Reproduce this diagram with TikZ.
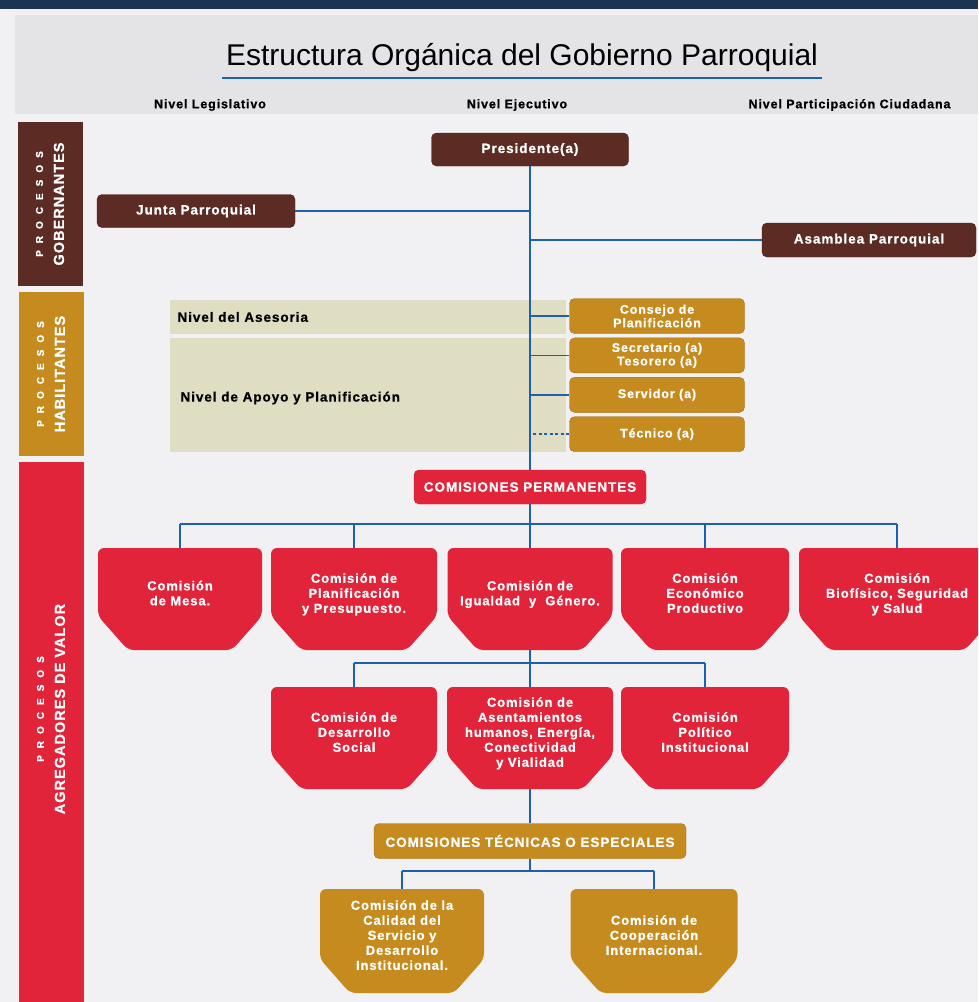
\documentclass[tikz,border=0pt]{standalone}
\usepackage{fontspec}
\setmainfont{Liberation Sans}
\newfontfamily\ancho{Liberation Sans}[LetterSpace=7,BoldFeatures={FakeBold=0.8}]
\usetikzlibrary{positioning,calc}
\definecolor{cafe}{RGB}{92,43,36}
\definecolor{rojo}{RGB}{226,36,58}
\definecolor{oro}{RGB}{197,139,30}
\definecolor{linea}{RGB}{30,96,176}
\definecolor{papel}{RGB}{241,240,242}
\definecolor{franja}{RGB}{228,227,230}
\definecolor{caqui}{RGB}{224,222,194}
\definecolor{marino}{RGB}{28,52,84}
\tikzset{
cargo/.style={draw=#1!80!black,fill=#1,rounded corners=5pt,text=white,align=center,inner sep=0pt,font=\ancho\bfseries\fontsize{13.5}{15}\selectfont},
apoyo/.style={cargo=oro,minimum width=175pt,minimum height=35pt,font=\ancho\bfseries\fontsize{12.5}{13.5}\selectfont},
comision/.style={fill=papel,inner sep=0pt,align=center,text=white,text depth=12pt,font=\ancho\bfseries\fontsize{13}{15}\selectfont,
 path picture={\fill[#1,rounded corners=6pt](path picture bounding box.north west)--(path picture bounding box.north east)--([yshift=34pt]path picture bounding box.south east)--([xshift=-30pt]path picture bounding box.south east)--([xshift=30pt]path picture bounding box.south west)--([yshift=34pt]path picture bounding box.south west)--cycle;}},
banda/.style={fill=#1,rotate=90,minimum height=65pt,inner sep=0pt},
bandatxt/.style={rotate=90,align=center,text=white,font=\ancho\bfseries\fontsize{14.5}{21}\selectfont},
nivel/.style={font=\ancho\bfseries\fontsize{12.5}{14}\selectfont},
enlace/.style={linea,line width=1.5pt}
}
\newcommand{\procesos}{{\fontsize{10}{12}\selectfont P\hspace{7pt}R\hspace{7pt}O\hspace{7pt}C\hspace{7pt}E\hspace{7pt}S\hspace{7pt}O\hspace{7pt}S}}
\begin{document}
\begin{tikzpicture}[x=1pt,y=-1pt]
\useasboundingbox (0,0) rectangle (978,1002);
\clip (0,0) rectangle (978,1002);
\fill[papel] (0,0) rectangle (978,1002);
\fill[marino] (0,0) rectangle (978,9);
\fill[franja] (15,15) rectangle (978,114);
\node[font=\fontsize{30}{32}\selectfont] (titulo) at (522,58) {Estructura Orgánica del Gobierno Parroquial};
\draw[linea,line width=1.8pt] ([yshift=-2pt]titulo.south west) -- ([yshift=-2pt]titulo.south east);
\node[nivel] (legis) at (210,105) {Nivel Legislativo};
\node[nivel] (ejec) at (517,105) {Nivel Ejecutivo};
\node[nivel,anchor=west] (partic) at (745,105) {Nivel Participación Ciudadana};

\node[banda=cafe,minimum width=164pt] (gob) at (50,204) {};
\node[bandatxt] at (gob) {\procesos\\GOBERNANTES};
\node[banda=oro,minimum width=164pt] (hab) at (51,374) {};
\node[bandatxt] at (hab) {\procesos\\HABILITANTES};
\node[banda=rojo,minimum width=548pt] (agr) at (51,736) {};
\node[bandatxt] at (51,709) {\procesos\\AGREGADORES DE VALOR};

\fill[caqui] (170,300) rectangle (566,334);
\fill[caqui] (170,338) rectangle (566,452);
\node[nivel,anchor=west,font=\ancho\bfseries\fontsize{13.5}{15}\selectfont] (asesoria) at (174,317) {Nivel del Asesoria};
\node[nivel,anchor=west,font=\ancho\bfseries\fontsize{13.5}{15}\selectfont] (planif) at (177,398) {Nivel de Apoyo y Planificación};

\node[cargo=cafe,minimum width=197pt,minimum height=33pt] (pres) at (530,149.5) {Presidente(a)};
\node[cargo=cafe,minimum width=198pt,minimum height=33pt] (junta) at (196,211) {Junta Parroquial};
\node[cargo=cafe,minimum width=214pt,minimum height=34pt] (asam) at (869,240) {Asamblea Parroquial};

\node[apoyo] (consejo) at (657,316) {Consejo de\\Planificación};
\node[apoyo,below=4pt of consejo] (secre) {Secretario (a)\\Tesorero (a)};
\node[apoyo,below=4pt of secre] (serv) {Servidor (a)};
\node[apoyo,below=4pt of serv] (tecn) {Técnico (a)};

\node[cargo=rojo,minimum width=232pt,minimum height=34pt] (perm) at (530,487) {COMISIONES PERMANENTES};

\node[comision=rojo,minimum width=164pt,minimum height=102pt] (mesa) at (180,599) {Comisión\\de Mesa.};
\node[comision=rojo,minimum width=166pt,minimum height=102pt] (plan) at (354,599) {Comisión de\\Planificación\\y Presupuesto.};
\node[comision=rojo,minimum width=165pt,minimum height=102pt] (igual) at (530,599) {Comisión de\\Igualdad~~y~~Género.};
\node[comision=rojo,minimum width=168pt,minimum height=102pt] (econ) at (705,599) {Comisión\\Económico\\Productivo};
\node[comision=rojo,minimum width=196pt,minimum height=102pt] (bio) at (897,599) {Comisión\\Biofísico, Seguridad\\y Salud};

\node[comision=rojo,minimum width=166pt,minimum height=102pt] (social) at (354,738) {Comisión de\\Desarrollo\\Social};
\node[comision=rojo,minimum width=166pt,minimum height=102pt] (asent) at (530,738) {Comisión de\\Asentamientos\\humanos, Energía,\\Conectividad\\y Vialidad};
\node[comision=rojo,minimum width=168pt,minimum height=102pt] (polit) at (705,738) {Comisión\\Político\\Institucional};

\node[cargo=oro,minimum width=312pt,minimum height=35pt] (tecesp) at (530,841) {COMISIONES TÉCNICAS O ESPECIALES};
\node[comision=oro,minimum width=164pt,minimum height=104pt] (calidad) at (402,941) {Comisión de la\\Calidad del\\Servicio y\\Desarrollo\\Institucional.};
\node[comision=oro,minimum width=167pt,minimum height=104pt] (coop) at (654,941) {Comisión de\\Cooperación\\Internacional.};

\coordinate (bus1) at (530,524);
\coordinate (bus2) at (530,663);
\coordinate (bus3) at (530,871);

\draw[enlace](pres)--(perm);
\draw[enlace](junta.east)--(junta.east-|pres.south);
\draw[enlace](asam.west)--(asam.west-|pres.south);
\foreach \n in {consejo,secre,serv} \draw[enlace](\n.west)--(\n.west-|pres.south);
\draw[enlace,dash pattern=on 3pt off 2.5pt](tecn.west)--(tecn.west-|pres.south);
\draw[enlace](perm)--(bus1);
\draw[enlace](mesa.north|-bus1)--(bio.north|-bus1);
\foreach \n in {mesa,plan,igual,econ,bio} \draw[enlace](\n.north)--(\n.north|-bus1);
\draw[enlace](igual.south)--(bus2);
\draw[enlace](social.north|-bus2)--(polit.north|-bus2);
\foreach \n in {social,asent,polit} \draw[enlace](\n.north)--(\n.north|-bus2);
\draw[enlace](asent)--(tecesp);
\draw[enlace](tecesp)--(bus3);
\draw[enlace](calidad.north|-bus3)--(coop.north|-bus3);
\foreach \n in {calidad,coop} \draw[enlace](\n.north)--(\n.north|-bus3);
\end{tikzpicture}
\end{document}
